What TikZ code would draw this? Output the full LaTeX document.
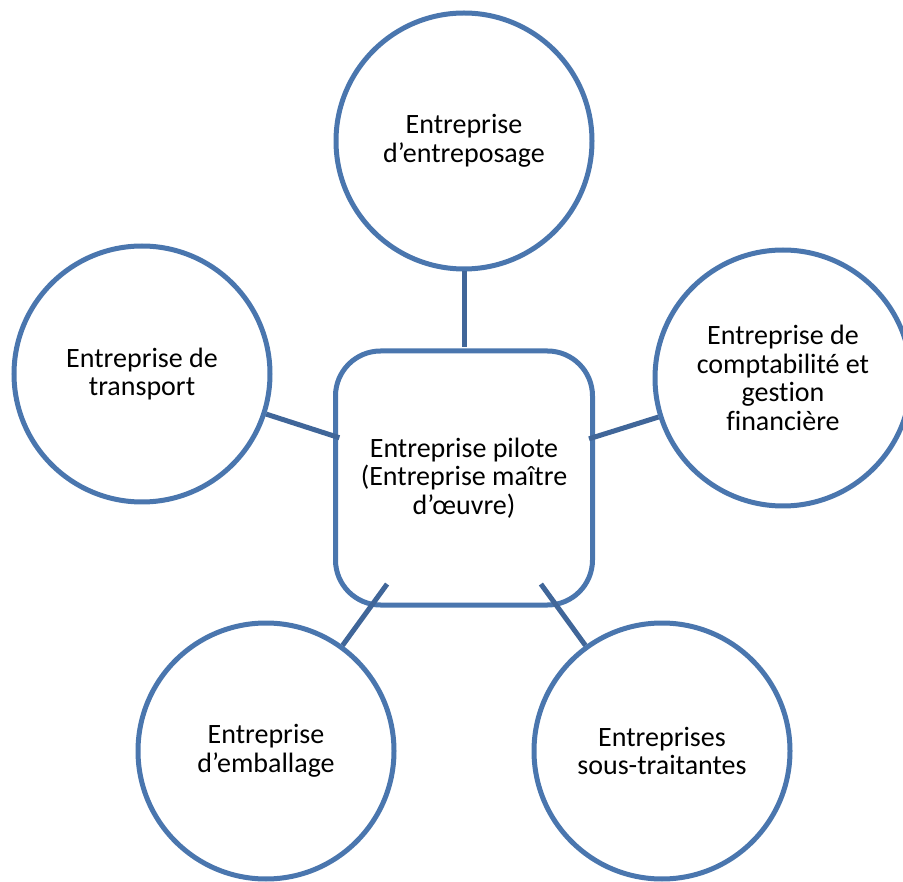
\documentclass[tikz,border=0pt]{standalone}
\usepackage{fontspec}
\setmainfont[Ligatures=NoCommon]{Carlito}
\usepackage{tikz}

\definecolor{ringblue}{RGB}{74,118,174}
\definecolor{linkblue}{RGB}{64,102,153}

\begin{document}
\begin{tikzpicture}[x=1pt,y=-1pt,
        partner/.style = {circle, draw=ringblue, line width=5pt, fill=white,
            minimum size=256pt, inner sep=0pt, align=center,
            font=\fontsize{28}{28.5}\selectfont},
        pilot/.style = {rectangle, rounded corners=45pt, draw=ringblue, line width=5pt,
            fill=white, minimum width=257pt, minimum height=254pt, inner sep=0pt,
            align=center, font=\fontsize{28}{28.5}\selectfont},
        link/.style = {draw=linkblue, line width=5pt}]

        \useasboundingbox (0,0) rectangle (903,882);

        % Central firm
        \node[pilot] (pilote) at (464,478) {Entreprise pilote\\(Entreprise maître\\d’œuvre)};
        \node[circle, minimum size=262pt, inner sep=0pt, outer sep=0pt] (piloteC) at (pilote.center) {};

        % Partner firms
        \node[partner] (entreposage) at (464,141) {Entreprise\\d’entreposage};
        \node[partner] (transport) at (142,374) {Entreprise de\\transport};
        \node[partner] (comptabilite) at (783,378) {Entreprise de\\comptabilité et\\gestion\\financière};
        \node[partner] (emballage) at (266,751) {Entreprise\\d’emballage};
        \node[partner] (soustraitance) at (662,751) {Entreprises\\sous-traitantes};

        % Links to the central firm
        \draw[link] (entreposage) -- (piloteC);
        \draw[link] (transport) -- (piloteC);
        \draw[link] (comptabilite) -- (piloteC);
        \draw[link] (emballage) -- (piloteC);
        \draw[link] (soustraitance) -- (piloteC);

    \end{tikzpicture}
\end{document}
